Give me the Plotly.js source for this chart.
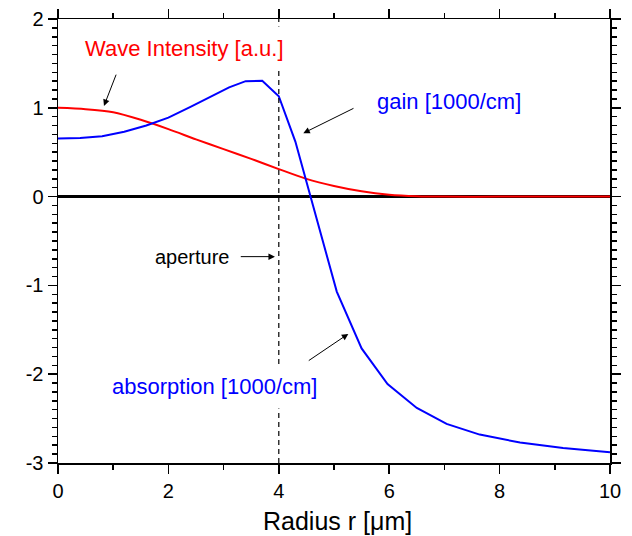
<!DOCTYPE html>
<html>
<head>
<meta charset="utf-8">
<script src="https://cdn.plot.ly/plotly-3.0.1.min.js"></script>
<style>html,body{margin:0;padding:0;background:#fff;overflow:hidden;}#chart{width:632px;height:536px;}</style>
</head>
<body>
<div id="chart"></div>
<script>
// Gain / absorption curve [1000/cm]
const gainR = [0, 0.4, 0.8, 1.2, 1.6, 2.0, 2.4, 2.8, 3.1, 3.4, 3.7, 4.0, 4.3, 5.05, 5.5, 5.97, 6.5, 7.04, 7.64, 8.37, 9.15, 10];
const gainV = [0.655, 0.66, 0.68, 0.73, 0.80, 0.89, 1.01, 1.14, 1.23, 1.30, 1.305, 1.13, 0.62, -1.07, -1.71, -2.11, -2.38, -2.56, -2.68, -2.77, -2.83, -2.88];
// Wave intensity [a.u.]
const waveR = [0, 0.5, 1.0, 1.5, 2.0, 2.5, 3.0, 3.5, 4.0, 4.5, 5.0, 5.5, 6.0, 6.5, 7, 8, 9, 10];
const waveV = [1.0, 0.985, 0.95, 0.865, 0.76, 0.645, 0.535, 0.425, 0.31, 0.20, 0.12, 0.06, 0.022, 0.005, 0, 0, 0, 0];
// Tick labels
const xTickVals = [0, 2, 4, 6, 8, 10];
const xTickText = ['0', '2', '4', '6', '8', '10'];
const yTickVals = [-3, -2, -1, 0, 1, 2];
const yTickText = ['-3', '-2', '-1', '0', '1', '2'];
const xTitle = 'Radius r [μm]';
const apertureR = 4;

const FONT = 'Liberation Sans, Arial, sans-serif';

// minor tick positions (axis decoration)
const xMinor = [], yMinor = [];
for (let i = 0; i <= 10; i++) if (i % 2) xMinor.push(i);
for (let i = -30; i <= 20; i++) if (i % 10) yMinor.push(i / 10);

const traces = [
  {x: waveR, y: waveV, mode: 'lines', line: {color: '#ff0000', width: 2, shape: 'spline', smoothing: 0.8}, hoverinfo: 'skip'},
  {x: gainR, y: gainV, mode: 'lines', line: {color: '#0000ff', width: 2}, hoverinfo: 'skip'}
];

function arrow(xh, yh, xt, yt) {
  return {x: xh, y: yh, ax: xt, ay: yt, xref: 'x', yref: 'y', axref: 'x', ayref: 'y',
    text: '', showarrow: true, arrowhead: 2, arrowsize: 1.3, arrowwidth: 1, arrowcolor: '#000'};
}

const layout = {
  width: 632, height: 536,
  margin: {l: 58, r: 22, t: 19, b: 73},
  paper_bgcolor: '#fff', plot_bgcolor: '#fff',
  showlegend: false,
  font: {family: FONT, color: '#000'},
  xaxis: {
    range: [0, 10], tickmode: 'array', tickvals: xTickVals, ticktext: xTickText,
    ticks: 'outside', ticklen: 9, tickwidth: 1.5, tickcolor: '#000',
    minor: {tickmode: 'array', tickvals: xMinor, ticks: 'outside', ticklen: 5, tickwidth: 1.5, tickcolor: '#000', showgrid: false},
    showline: true, linecolor: '#000', linewidth: 1.5, mirror: 'ticks',
    showgrid: false, zeroline: false,
    tickfont: {size: 20, family: FONT, color: '#000'}
  },
  yaxis: {
    range: [-3, 2], tickmode: 'array', tickvals: yTickVals, ticktext: yTickText,
    ticks: 'outside', ticklen: 9, tickwidth: 1.5, tickcolor: '#000',
    minor: {tickmode: 'array', tickvals: yMinor, ticks: 'outside', ticklen: 5, tickwidth: 1.5, tickcolor: '#000', showgrid: false},
    showline: true, linecolor: '#000', linewidth: 1.5, mirror: 'ticks',
    showgrid: false, zeroline: true, zerolinecolor: '#000', zerolinewidth: 2.5,
    tickfont: {size: 20, family: FONT, color: '#000'}
  },
  shapes: [
    {type: 'line', xref: 'x', yref: 'y', x0: apertureR, x1: apertureR, y0: -3, y1: 2,
     line: {color: '#000', width: 1.2, dash: '5px,4px'}}
  ],
  annotations: [
    {x: 0.506, y: -0.13, xref: 'paper', yref: 'paper', text: xTitle, showarrow: false,
     xanchor: 'center', yanchor: 'middle', font: {color: '#000', size: 25, family: FONT}},
    {x: 2.29, y: 1.663, xref: 'x', yref: 'y', text: 'Wave Intensity [a.u.]', showarrow: false,
     font: {color: '#ff0000', size: 22, family: FONT}, bgcolor: '#fff', borderpad: 9},
    {x: 7.09, y: 1.07, xref: 'x', yref: 'y', text: 'gain [1000/cm]', showarrow: false,
     font: {color: '#0000ff', size: 22, family: FONT}},
    {x: 2.43, y: -0.676, xref: 'x', yref: 'y', text: 'aperture', showarrow: false,
     font: {color: '#000', size: 20, family: FONT}},
    {x: 2.844, y: -2.139, xref: 'x', yref: 'y', text: 'absorption [1000/cm]', showarrow: false,
     font: {color: '#0000ff', size: 22, family: FONT}, bgcolor: '#fff', borderpad: 9},
    arrow(0.833, 1.021, 1.063, 1.39),
    arrow(4.444, 0.714, 5.38, 1.002),
    arrow(3.93, -0.676, 3.284, -0.676),
    arrow(5.259, -1.546, 4.516, -1.858)
  ]
};

Plotly.newPlot('chart', traces, layout, {staticPlot: true, displayModeBar: false});
</script>
</body>
</html>
